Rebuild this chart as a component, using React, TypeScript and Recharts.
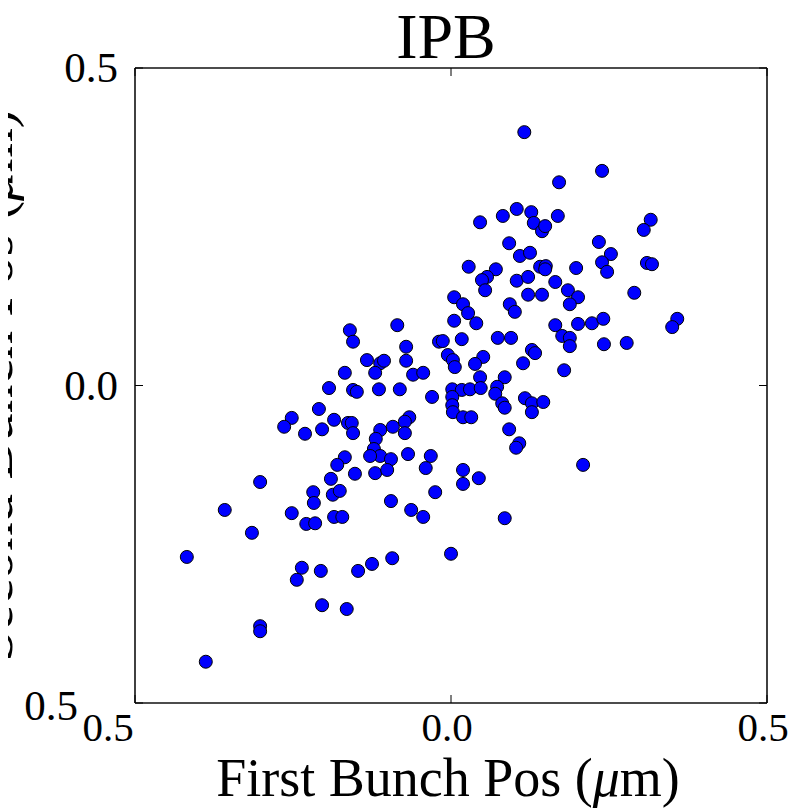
import React from 'react';
import { ScatterChart, Scatter, XAxis, YAxis, Label } from 'recharts';

// first bunch position (um)
const firstBunchPos = [
  0.116, 0.239, 0.171, 0.046, 0.082, 0.104, 0.127, 0.131, 0.144, 0.149,
  0.169, 0.316, 0.305, 0.092, 0.109, 0.125, 0.234, 0.253, 0.239, 0.247,
  0.310, 0.318, 0.028, 0.071, 0.057, 0.049, 0.054, 0.141, 0.150, 0.149,
  0.198, 0.104, 0.122, 0.165, 0.122, 0.144, 0.185, 0.201, 0.188, 0.290,
  0.005, 0.019, 0.027, 0.040, 0.005, 0.093, 0.101, 0.165, 0.201, 0.223,
  0.241, 0.358, 0.350, 0.017, 0.074, 0.095, 0.176, 0.188, 0.188, 0.242,
  0.278, 0.128, 0.133, 0.114, 0.051, 0.038, 0.179, 0.046, 0.085, -0.005,
  0.003, 0.006, -0.160, -0.155, -0.085, -0.071, -0.071, -0.019, -0.013, -0.133,
  -0.112, -0.106, -0.120, -0.168, -0.060, -0.044, -0.193, -0.155, -0.149, -0.114,
  -0.081, -0.030, 0.002, 0.017, 0.030, 0.047, 0.002, 0.073, 0.070, 0.081,
  0.085, 0.117, 0.128, 0.128, 0.146, 0.002, 0.003, 0.019, 0.032, -0.209,
  -0.252, -0.264, -0.231, -0.204, -0.185, -0.163, -0.157, -0.155, -0.112, -0.092,
  -0.066, -0.073, -0.073, -0.119, -0.122, -0.112, -0.128, -0.095, -0.068, -0.032,
  -0.040, -0.168, -0.180, -0.152, -0.120, -0.101, -0.190, -0.302, -0.218, -0.217,
  -0.187, -0.176, -0.025, -0.095, -0.063, -0.044, -0.358, -0.252, -0.229, -0.215,
  -0.185, -0.172, -0.315, -0.418, 0.000, -0.236, -0.244, -0.206, -0.147, -0.125,
  -0.093, -0.204, -0.165, -0.302, -0.302, -0.388, 0.092, 0.108, 0.103, 0.209,
  0.019, 0.044, 0.019, 0.085,
];

// second bunch position (um), same order
const secondBunchPos = [
  0.399, 0.338, 0.320, 0.257, 0.267, 0.278, 0.273, 0.256, 0.243, 0.251,
  0.267, 0.261, 0.245, 0.224, 0.204, 0.209, 0.226, 0.207, 0.194, 0.179,
  0.193, 0.191, 0.187, 0.183, 0.171, 0.166, 0.150, 0.187, 0.188, 0.183,
  0.185, 0.165, 0.171, 0.163, 0.143, 0.143, 0.150, 0.139, 0.128, 0.146,
  0.139, 0.128, 0.114, 0.098, 0.102, 0.128, 0.116, 0.095, 0.097, 0.098,
  0.105, 0.105, 0.092, 0.073, 0.075, 0.075, 0.078, 0.075, 0.062, 0.065,
  0.067, 0.056, 0.051, 0.035, 0.045, 0.034, 0.024, 0.013, 0.013, 0.048,
  0.040, 0.029, 0.087, 0.069, 0.095, 0.061, 0.039, 0.069, 0.070, 0.040,
  0.035, 0.039, 0.020, 0.020, 0.017, 0.020, -0.004, -0.007, -0.010, -0.006,
  -0.006, -0.018, -0.006, -0.007, -0.006, -0.004, -0.018, -0.002, -0.013, -0.028,
  -0.035, -0.020, -0.028, -0.042, -0.026, -0.031, -0.042, -0.050, -0.050, -0.037,
  -0.051, -0.065, -0.076, -0.069, -0.054, -0.059, -0.059, -0.075, -0.070, -0.065,
  -0.050, -0.057, -0.075, -0.084, -0.100, -0.111, -0.111, -0.116, -0.108, -0.111,
  -0.130, -0.113, -0.125, -0.139, -0.138, -0.133, -0.147, -0.152, -0.168, -0.185,
  -0.172, -0.166, -0.168, -0.182, -0.196, -0.207, -0.196, -0.201, -0.218, -0.217,
  -0.207, -0.207, -0.232, -0.270, -0.265, -0.287, -0.306, -0.292, -0.292, -0.281,
  -0.272, -0.346, -0.352, -0.379, -0.387, -0.435, -0.069, -0.091, -0.098, -0.125,
  -0.133, -0.146, -0.155, -0.209,
];

const axisTicks = [-0.5, 0, 0.5];
const axisDomain = [-0.5, 0.5];

const points = firstBunchPos.map((x, i) => ({ x, y: secondBunchPos[i] }));

const FONT = "'Liberation Serif', 'Times New Roman', serif";
const fmt = (v: number) => Math.abs(v).toFixed(1);

const BottomTick = ({ x, y, payload }: any) => {
  const v = payload.value;
  const shift = v < 0 ? -27 : -4;
  return (
    <g>
      <line x1={x} y1={y} x2={x} y2={y - 8} stroke="#000" strokeWidth={1} />
      <text x={x + shift} y={y + 38} textAnchor="middle" fontSize={41} fontFamily={FONT} fill="#000">
        {fmt(v)}
      </text>
    </g>
  );
};

const LeftTick = ({ x, y, payload }: any) => {
  const v = payload.value;
  const dx = v < 0 ? -40 : 0;
  const dy = v < 0 ? 3 : 0;
  return (
    <g>
      <line x1={x} y1={y} x2={x + 8} y2={y} stroke="#000" strokeWidth={1} />
      <text x={x - 17 + dx} y={y + 14 + dy} textAnchor="end" fontSize={43} fontFamily={FONT} fill="#000">
        {fmt(v)}
      </text>
    </g>
  );
};

const TopTick = ({ x, y }: any) => <line x1={x} y1={y} x2={x} y2={y + 8} stroke="#000" strokeWidth={1} />;
const RightTick = ({ x, y }: any) => <line x1={x} y1={y} x2={x - 8} y2={y} stroke="#000" strokeWidth={1} />;

const Dot = (p: any) => <circle cx={p.cx} cy={p.cy} r={6.5} fill="#0000ff" stroke="#000" strokeWidth={1} />;
const NoDot = () => null;

const TitleText = (props: any) => {
  const vb = props.viewBox || { x: 135, y: 68, width: 632 };
  return (
    <text x={vb.x + vb.width / 2 - 5} y={58} textAnchor="middle" fontSize={64} fontFamily={FONT} fill="#000">
      IPB
    </text>
  );
};

const XLabelText = (props: any) => {
  const vb = props.viewBox || { x: 135, y: 703, width: 632 };
  return (
    <text x={vb.x + vb.width / 2 - 3} y={796} textAnchor="middle" fontSize={54} fontFamily={FONT} fill="#000">
      First Bunch Pos (<tspan fontStyle="italic">μ</tspan>m)
    </text>
  );
};

const YLabelText = (props: any) => {
  const vb = props.viewBox || { y: 68, height: 635 };
  const cy = vb.y + vb.height / 2;
  const bx = 12;
  return (
    <text x={bx} y={cy} transform={`rotate(-90 ${bx} ${cy})`} textAnchor="middle" fontSize={57} fontFamily={FONT} fill="#000">
      Second Bunch Pos (<tspan fontStyle="italic">μ</tspan>m)
    </text>
  );
};

const frame = { stroke: '#111', strokeWidth: 1.6 };

export default function App() {
  return (
    <div style={{ marginLeft: -8, marginTop: -8, width: 806, height: 809, background: '#fff' }}>
      <ScatterChart width={806} height={809} margin={{ top: 67, right: 38, bottom: 0, left: 0 }}>
        <XAxis
          type="number"
          dataKey="x"
          domain={axisDomain}
          ticks={axisTicks}
          allowDataOverflow
          height={106}
          tickSize={0}
          tickMargin={0}
          axisLine={frame}
          tickLine={false}
          tick={<BottomTick />}
          interval={0}
        >
          <Label content={<XLabelText />} />
        </XAxis>
        <XAxis
          xAxisId="top"
          orientation="top"
          type="number"
          dataKey="x"
          domain={axisDomain}
          ticks={axisTicks}
          allowDataOverflow
          height={1}
          tickSize={0}
          tickMargin={0}
          axisLine={frame}
          tickLine={false}
          tick={<TopTick />}
          interval={0}
        >
          <Label content={<TitleText />} />
        </XAxis>
        <YAxis
          type="number"
          dataKey="y"
          domain={axisDomain}
          ticks={axisTicks}
          allowDataOverflow
          width={135}
          tickSize={0}
          tickMargin={0}
          axisLine={frame}
          tickLine={false}
          tick={<LeftTick />}
          interval={0}
        >
          <Label content={<YLabelText />} />
        </YAxis>
        <YAxis
          yAxisId="right"
          orientation="right"
          type="number"
          dataKey="y"
          domain={axisDomain}
          ticks={axisTicks}
          allowDataOverflow
          width={1}
          tickSize={0}
          tickMargin={0}
          axisLine={frame}
          tickLine={false}
          tick={<RightTick />}
          interval={0}
        />
        <Scatter data={points} xAxisId="top" yAxisId="right" shape={<NoDot />} isAnimationActive={false} />
        <Scatter data={points} fill="#0000ff" shape={<Dot />} isAnimationActive={false} />
      </ScatterChart>
    </div>
  );
}
